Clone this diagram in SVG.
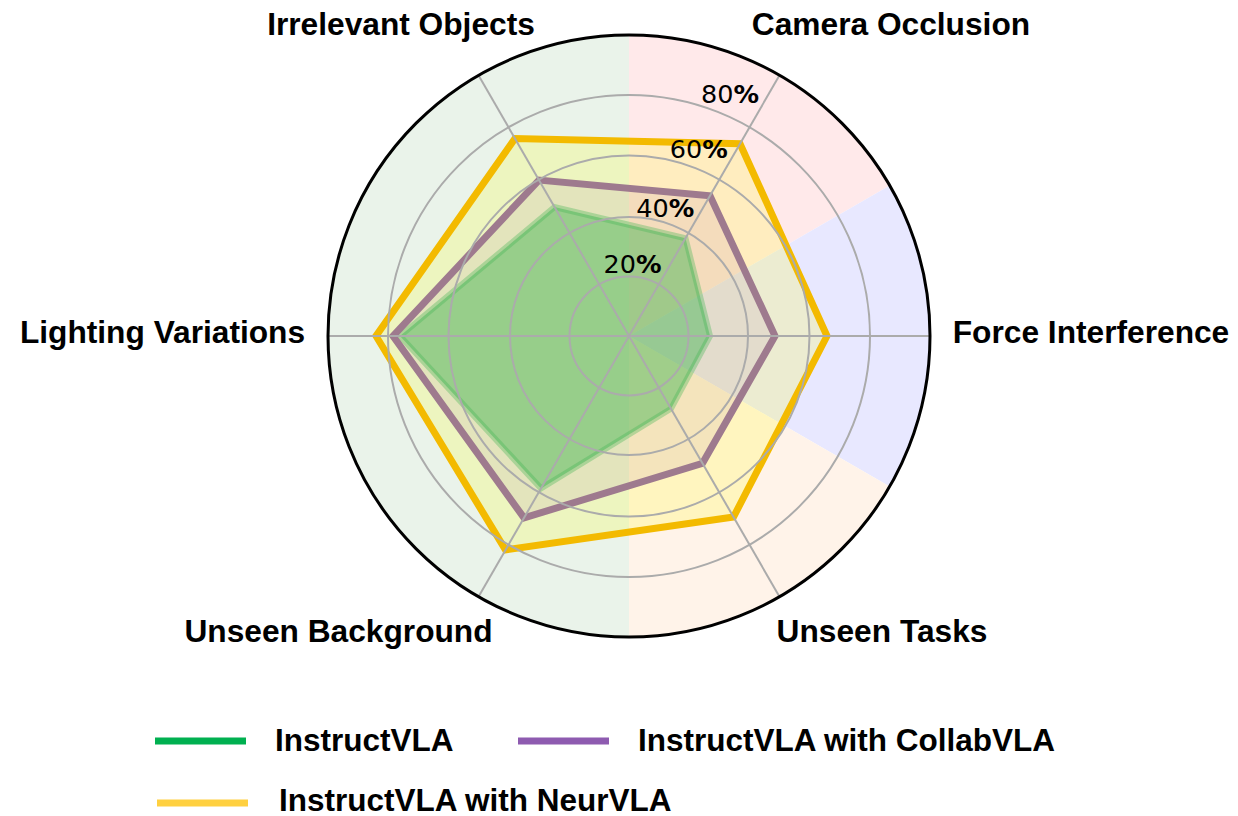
<svg xmlns="http://www.w3.org/2000/svg" width="1238" height="816" viewBox="0 0 1238 816">
<style>
.lbl{font-family:"Liberation Sans",Arial,sans-serif;font-weight:bold;font-size:31.7px;fill:#000;text-anchor:middle}
.leg{font-family:"Liberation Sans",Arial,sans-serif;font-weight:bold;font-size:31.5px;fill:#000}
.tick{font-family:"DejaVu Sans",sans-serif;font-size:25.5px;fill:#000;text-anchor:middle}
.pct{font-weight:bold}
.grid{fill:none;stroke:#ababab;stroke-width:2}
.spoke{stroke:#ababab;stroke-width:2}
</style>
<rect width="1238" height="816" fill="#fff"/>
<g id="sectors">
<path d="M629,336 L629,35 A301,301 0 0,0 629,637 Z" fill="#eaf3ea"/>
<path d="M629,336 L629,35 A301,301 0 0,1 889.7,185.5 Z" fill="#ffe9ea"/>
<path d="M629,336 L889.7,185.5 A301,301 0 0,1 889.7,486.5 Z" fill="#e8e8ff"/>
<path d="M629,336 L889.7,486.5 A301,301 0 0,1 629,637 Z" fill="#fff3e9"/>
</g>
<g id="series-neurvla-fill">
<polygon points="827,336 740,143.7 515,138.5 376,336 505.5,549.9 733.5,517" fill="#ffff00" fill-opacity="0.18"/>
</g>
<g id="series-collabvla-fill">
<polygon points="775,336 710,195.7 539,180.1 393,336 524,517.9 702.5,463.3" fill="#9650aa" fill-opacity="0.1"/>
</g>
<g id="series-instructvla">
<polygon points="710,336 685.5,238.3 554.5,207 400,336 541,488.4 671,408.7" fill="#42b553" fill-opacity="0.47" stroke="#42b553" stroke-opacity="0.35" stroke-width="6" stroke-linejoin="miter"/>
</g>
<g id="series-collabvla-line">
<polygon points="775,336 710,195.7 539,180.1 393,336 524,517.9 702.5,463.3" fill="none" stroke="#9e7a8e" stroke-width="7" stroke-linejoin="miter"/>
</g>
<g id="series-neurvla-line">
<polygon points="827,336 740,143.7 515,138.5 376,336 505.5,549.9 733.5,517" fill="none" stroke="#f3ba00" stroke-width="7" stroke-linejoin="miter"/>
</g>
<g id="gridlines">
<circle class="grid" cx="629" cy="336" r="59.5"/>
<circle class="grid" cx="629" cy="336" r="119"/>
<circle class="grid" cx="629" cy="336" r="180.5"/>
<circle class="grid" cx="629" cy="336" r="241"/>
<line class="spoke" x1="629" y1="336" x2="930" y2="336"/>
<line class="spoke" x1="629" y1="336" x2="779.5" y2="75.3"/>
<line class="spoke" x1="629" y1="336" x2="478.5" y2="75.3"/>
<line class="spoke" x1="629" y1="336" x2="328" y2="336"/>
<line class="spoke" x1="629" y1="336" x2="478.5" y2="596.7"/>
<line class="spoke" x1="629" y1="336" x2="779.5" y2="596.7"/>
</g>
<g id="outer-ring">
<circle cx="629" cy="336" r="301" fill="none" stroke="#000" stroke-width="3"/>
</g>
<g id="tick-labels">
<text class="tick" x="632.5" y="273">20<tspan class="pct">%</tspan></text>
<text class="tick" x="665.3" y="217">40<tspan class="pct">%</tspan></text>
<text class="tick" x="698.7" y="158">60<tspan class="pct">%</tspan></text>
<text class="tick" x="730" y="103">80<tspan class="pct">%</tspan></text>
</g>
<g id="axis-labels">
<text id="label-camera" class="lbl" x="891" y="35">Camera Occlusion</text>
<text id="label-irrelevant" class="lbl" x="401" y="35">Irrelevant Objects</text>
<text id="label-lighting" class="lbl" x="162.5" y="343">Lighting Variations</text>
<text id="label-force" class="lbl" x="1091" y="343">Force Interference</text>
<text id="label-background" class="lbl" x="338.5" y="642">Unseen Background</text>
<text id="label-tasks" class="lbl" x="882" y="642">Unseen Tasks</text>
</g>
<g id="legend">
<line x1="155" y1="741" x2="246" y2="741" stroke="#00b050" stroke-width="7"/>
<text class="leg" x="275" y="751">InstructVLA</text>
<line x1="518" y1="741" x2="609" y2="741" stroke="#8e5bb0" stroke-width="7"/>
<text class="leg" x="638" y="751">InstructVLA with CollabVLA</text>
<line x1="157" y1="803" x2="248" y2="803" stroke="#ffd040" stroke-width="7"/>
<text class="leg" x="279" y="811">InstructVLA with NeurVLA</text>
</g>
</svg>
